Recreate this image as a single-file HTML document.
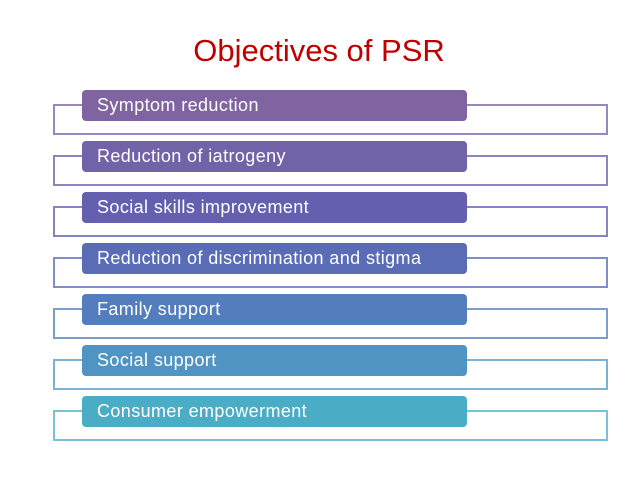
<!DOCTYPE html>
<html><head><meta charset="utf-8"><style>
body{margin:0;width:638px;height:479px;background:#fff;position:relative;overflow:hidden;font-family:"Liberation Sans",sans-serif}
.t{position:absolute;left:0;width:638px;top:33px;text-align:center;color:#c00000;font-size:31px;line-height:36px}
.o{position:absolute;left:53px;width:551px;height:27px;border:2px solid;box-sizing:content-box}
.b{position:absolute;left:82px;width:385px;height:31px;border-radius:4px;color:#fff;font-size:18px;letter-spacing:0.4px;line-height:31px;padding-left:15px;box-sizing:border-box;white-space:nowrap}
</style></head><body>
<div class="t">Objectives of PSR</div>
<div class="o" style="top:104px;border-color:#9a86bb"></div><div class="b" style="top:90px;background:#8064a2">Symptom reduction</div>
<div class="o" style="top:155px;border-color:#8d85c0"></div><div class="b" style="top:141px;background:#7262a8">Reduction of iatrogeny</div>
<div class="o" style="top:206px;border-color:#8484c4"></div><div class="b" style="top:192px;background:#645fae">Social skills improvement</div>
<div class="o" style="top:257px;border-color:#7e8ec8"></div><div class="b" style="top:243px;background:#5a6cb5">Reduction of discrimination and stigma</div>
<div class="o" style="top:308px;border-color:#7b9fcc"></div><div class="b" style="top:294px;background:#537dbd">Family support</div>
<div class="o" style="top:359px;border-color:#79b2d2"></div><div class="b" style="top:345px;background:#4f94c2">Social support</div>
<div class="o" style="top:410px;border-color:#79c2d6"></div><div class="b" style="top:396px;background:#4bacc6">Consumer empowerment</div>
</body></html>
